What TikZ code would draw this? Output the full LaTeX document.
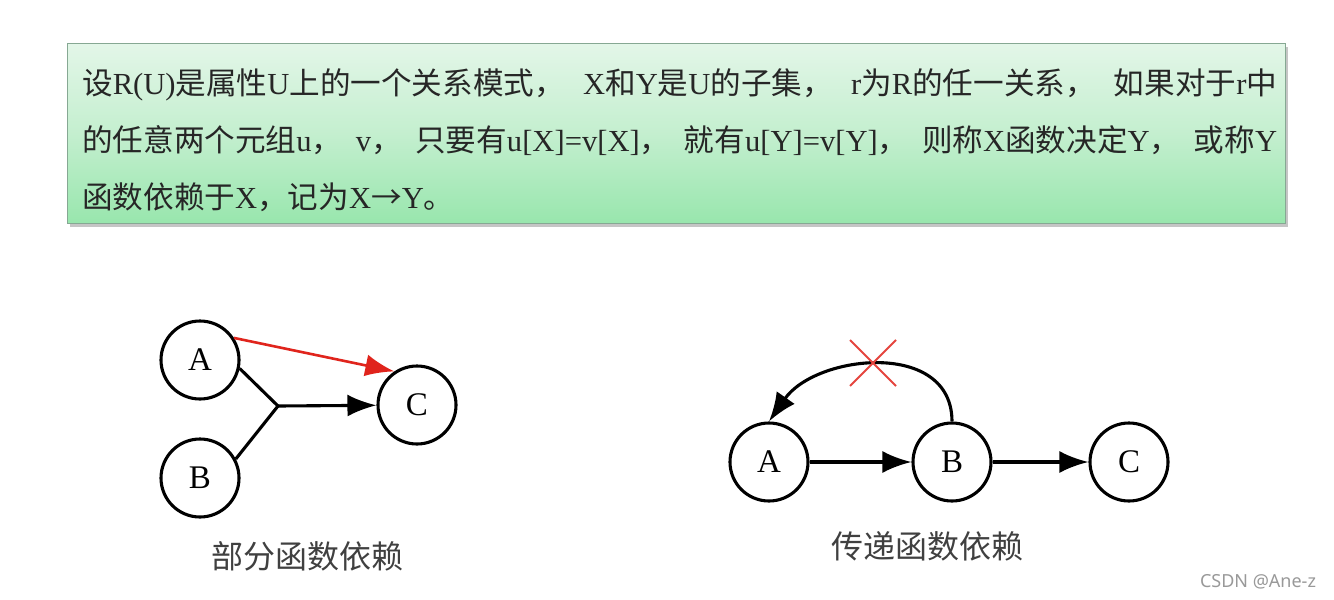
\documentclass[tikz,border=0pt]{standalone}
\usepackage{fontspec}
\setmainfont{Liberation Serif}
\newfontfamily\cjk{Noto Sans CJK SC}
\newfontfamily\wmfont{Noto Sans}
\usepackage{xcolor}
\definecolor{boxtop}{HTML}{E3F6E8}
\definecolor{boxmid}{HTML}{C4EFCF}
\definecolor{boxbot}{HTML}{98E6AD}
\definecolor{boxline}{HTML}{86A893}
\definecolor{arrred}{HTML}{E0241C}
\usetikzlibrary{arrows.meta, shadows, calc}
\tolerance=9999
\newcommand{\lat}[1]{{\rmfamily #1}}
\newcommand{\cma}{，\hspace{0pt plus 40pt}}

\begin{document}
\begin{tikzpicture}[x=1pt, y=-1pt,
  attr/.style={circle, draw, line width=3.1pt, minimum size=78pt, inner sep=0pt,
    font=\fontsize{33}{36}\selectfont},
  dep/.style={line width=3.1pt, -{Latex[length=29pt, width=22pt]}},
  caption/.style={text=black!75, font=\cjk\fontsize{32}{36}\selectfont}]
\useasboundingbox[fill=white] (0,0) rectangle (1334,600);
% definition box
\node[anchor=north west, minimum width=1218pt, minimum height=180pt, draw=boxline, line width=1pt,
  top color=boxtop, bottom color=boxbot, middle color=boxmid,
  drop shadow={shadow xshift=2pt, shadow yshift=-3pt, opacity=0.45}] (defbox) at (67,43) {};
\node[anchor=north west, inner sep=0pt, text width=1195pt, align=justify, text=black!85,
  font=\cjk\fontsize{30.6}{57}\selectfont] (deftext) at (82,68)
  {设\lat{R(U)}是属性\lat{U}上的一个关系模式\cma\lat{X}和\lat{Y}是\lat{U}的子集\cma\lat{r}为\lat{R}的任一关系\cma 如果对于\lat{r}中\linebreak
   的任意两个元组\lat{u}\cma\lat{v}\cma 只要有\lat{u[X]=v[X]}\cma 就有\lat{u[Y]=v[Y]}\cma 则称\lat{X}函数决定\lat{Y}\cma 或称\lat{Y}\linebreak
   函数依赖于\lat{X}，记为\lat{X}→\lat{Y}。};

% partial dependency
\foreach \name/\x/\y/\lbl in {pA/200/360/A, pB/200/478/B, pC/417/405/C}{
\node[attr] (\name) at (\x,\y) {\lbl};
}
\coordinate (join) at (278,406);
\draw[line width=3.1pt] (pA.-12) -- (join) -- (pB.28);
\draw[dep] (join) -- (pC);
\draw[dep, draw=arrred, fill=arrred, line width=2.6pt] (pA.33) -- (pC.124);
\node[caption] (pcap) at (307,556) {部分函数依赖};

% transitive dependency
\foreach \name/\x/\lbl in {tA/769/A, tB/952/B, tC/1129/C}{
\node[attr] (\name) at (\x,462) {\lbl};
}
\draw[dep] (tA) -- (tB);
\draw[dep] (tB) -- (tC);
\draw[dep] (tB.north) to[out=90, in=55, looseness=1.15] (tA.north);
\coordinate (cross) at (873,363);
\draw[arrred!85, line width=2pt] ($(cross)+(-23,-23)$) -- ($(cross)+(23,23)$)
  ($(cross)+(23,-23)$) -- ($(cross)+(-23,23)$);
\node[caption] (tcap) at (927,546) {传递函数依赖};

\node[text=black!40, font=\wmfont\fontsize{18}{20}\selectfont] (mark) at (1258,582) {CSDN @Ane-z};
\end{tikzpicture}
\end{document}
